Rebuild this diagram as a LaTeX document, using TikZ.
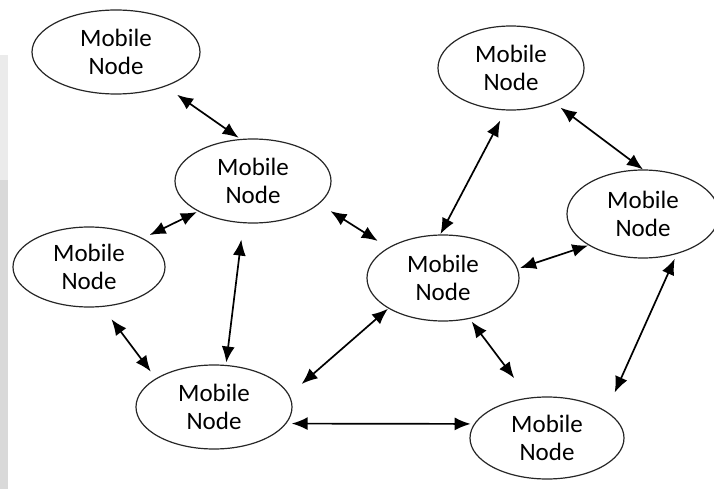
\documentclass[tikz,border=0pt]{standalone}
\usepackage{fontspec}
\setmainfont{Carlito}
\usepackage{tikz}
\usetikzlibrary{shapes.geometric}
\usetikzlibrary{arrows.meta}
\usetikzlibrary{positioning}

\begin{document}
\begin{tikzpicture}
    [
    x=1pt, y=-1pt,
    mnode/.style={ellipse,draw=black!85,line width=1.2pt,inner sep=0pt,outer sep=0pt,
                  align=center,font=\fontsize{25}{28}\selectfont},
    link/.style={{Latex[length=16pt,width=13pt]}-{Latex[length=16pt,width=13pt]},line width=1.7pt},
    ]
    \useasboundingbox (0,0) rectangle (714,489);
    % faint strip on the left edge
    \fill [black!8] (0,55) rectangle (8,180);
    \fill [black!15] (0,180) rectangle (8,489);

    \node (1) at (116,52) [mnode, minimum width=168pt, minimum height=84pt] {Mobile\\Node};
    \node (2) at (253,181) [mnode, minimum width=156pt, minimum height=84pt] {Mobile\\Node};
    \node (3) at (89,267) [mnode, minimum width=152pt, minimum height=80pt] {Mobile\\Node};
    \node (4) at (214,407) [mnode, minimum width=156pt, minimum height=84pt] {Mobile\\Node};
    \node (5) at (443,278) [mnode, minimum width=152pt, minimum height=86pt] {Mobile\\Node};
    \node (6) at (511,68) [mnode, minimum width=146pt, minimum height=84pt] {Mobile\\Node};
    \node (7) at (643,214) [mnode, minimum width=152pt, minimum height=88pt] {Mobile\\Node};
    \node (8) at (547,438) [mnode, minimum width=154pt, minimum height=82pt] {Mobile\\Node};

    \draw [link, shorten <=15pt, shorten >=3pt] (1.-35) to (2.106);
    \draw [link, shorten <=8pt, shorten >=2pt] (3.28) to (2.209);
    \draw [link, shorten <=14pt, shorten >=13pt] (2.-19) to (5.151);
    \draw [link, shorten <=17pt, shorten >=3pt] (2.257) to (4.74);
    \draw [link, shorten <=16pt, shorten >=9pt] (3.-72) to (4.154);
    \draw [link, shorten <=17pt, shorten >=1pt] (4.9) to (5.209);
    \draw [link, shorten <=6pt, shorten >=4pt] (4.-13) to (8.169);
    \draw [link, shorten <=1pt, shorten >=12pt] (5.94) to (6.-97);
    \draw [link, shorten <=9pt, shorten >=1pt] (6.-39) to (7.89);
    \draw [link, shorten <=3pt, shorten >=1pt] (5.7) to (7.210);
    \draw [link, shorten <=4pt, shorten >=25pt] (5.-57) to (8.114);
    \draw [link, shorten <=6pt, shorten >=21pt] (7.-49) to (8.24);
  \end{tikzpicture}
\end{document}
